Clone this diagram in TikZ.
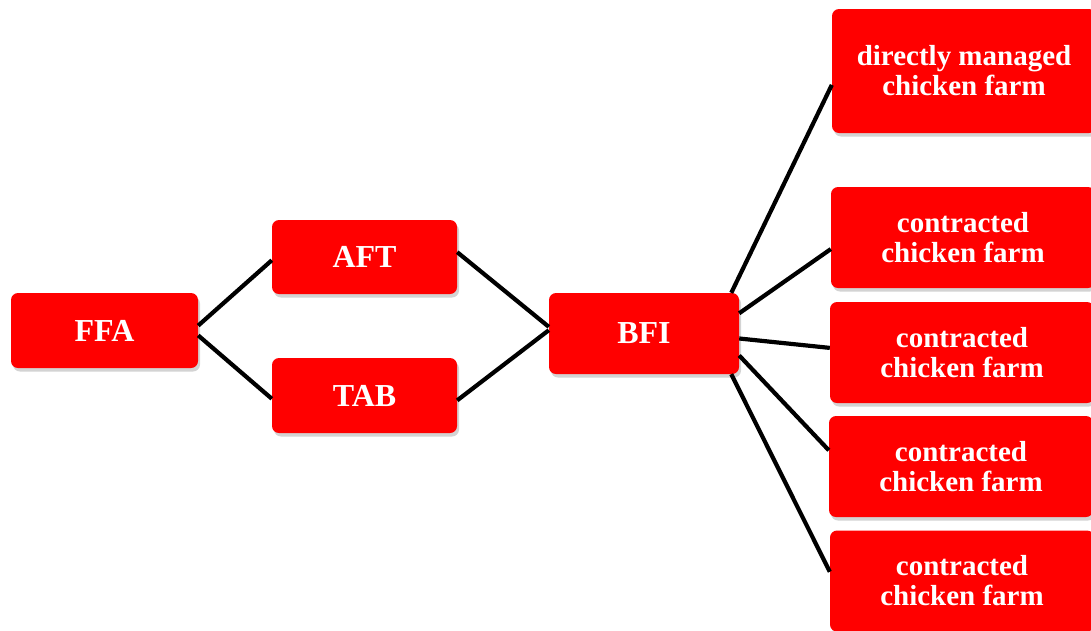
\documentclass[tikz,border=0pt]{standalone}
\usepackage{fontspec}
\setmainfont{Liberation Serif}
\usetikzlibrary{shadows}
\begin{document}
\begin{tikzpicture}[x=1pt, y=-1pt,
    box/.style={rectangle, rounded corners=7pt, fill=red, text=white,
        font=\fontsize{29}{30}\selectfont\bfseries, align=center, inner sep=0pt,
        drop shadow={opacity=0.35, shadow xshift=2pt, shadow yshift=-3.5pt}},
    unit/.style={box, font=\fontsize{32}{34}\selectfont\bfseries},
    farm/.style={box, minimum width=264pt, minimum height=101pt},
    link/.style={line width=4.2pt}]
		    \clip (0,0) rectangle (1091,630);
		    
		    \node [unit, minimum width=187pt, minimum height=75pt] (FFA) at (104.5,330.5) {FFA};
		    \node [unit, minimum width=185pt, minimum height=74pt] (AFT) at (364.5,257) {AFT};
		    \node [unit, minimum width=185pt, minimum height=75pt] (TAB) at (364.5,395.5) {TAB};
		    \node [unit, minimum width=190pt, minimum height=81pt] (BFI) at (644,333.5) {BFI};
		    
		    \node [farm, minimum height=124pt] (dm) at (964,71) {directly managed\\chicken farm};
		    \node [farm] (c1) at (963,237.5) {contracted\\chicken farm};
		    \node [farm] (c2) at (962,352.5) {contracted\\chicken farm};
		    \node [farm] (c3) at (961,466.5) {contracted\\chicken farm};
		    \node [farm] (c4) at (962,581) {contracted\\chicken farm};
		    
			\draw [link] (FFA.3) -- (AFT.182);
			\draw [link] (FFA.-3) -- (TAB.182);
			\draw [link] (AFT.3) -- (BFI.176);
			\draw [link] (TAB.-3) -- (BFI.178);
			
			\draw [link] (BFI.25) -- (dm.186);
			\draw [link] (BFI.12) -- (c1.185);
			\draw [link] (BFI.-3) -- (c2.178);
			\draw [link] (BFI.-13) -- (c3.173);
			\draw [link] (BFI.-25) -- (c4.176);
		\end{tikzpicture}
\end{document}
